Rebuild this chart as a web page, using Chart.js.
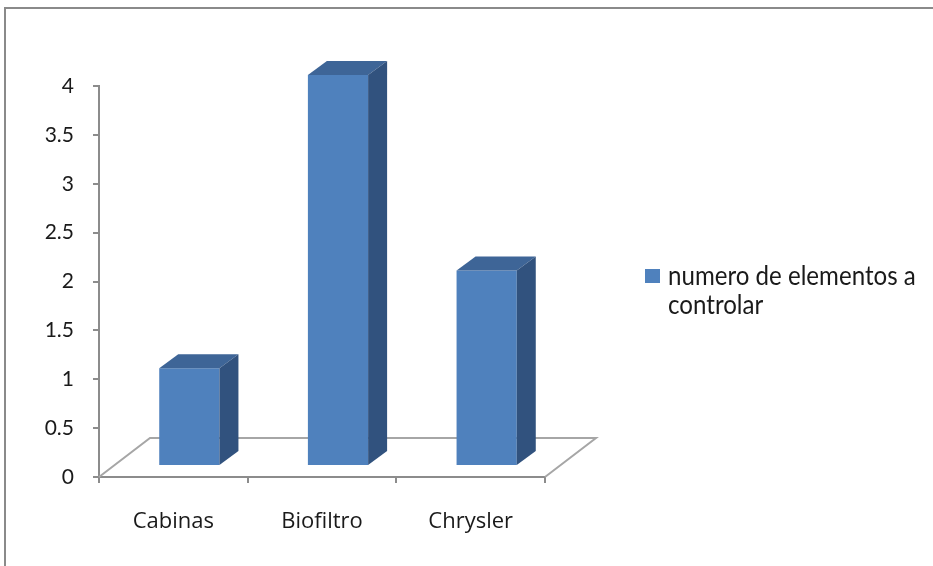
<!DOCTYPE html>
<html>
<head>
<meta charset="utf-8">
<script src="https://cdn.jsdelivr.net/npm/chart.js@4.4.0/dist/chart.umd.min.js"></script>
<style>
  html, body { margin: 0; padding: 0; background: #fff; }
  #wrap { position: relative; width: 933px; height: 566px; overflow: hidden; }
  #frame { position: absolute; left: 4px; top: 7px; width: 1000px; height: 700px;
           border-top: 2px solid #8a8a8a; border-left: 2px solid #8a8a8a; }
  canvas { position: absolute; left: 0; top: 0; }
</style>
</head>
<body>
<div id="wrap">
  <div id="frame"></div>
  <canvas id="c" width="933" height="566"></canvas>
</div>
<script>
// Data
const categories = ['Cabinas', 'Biofiltro', 'Chrysler'];
const seriesName = 'numero de elementos a controlar';
const seriesLegendLines = ['numero de elementos a', 'controlar'];
const seriesValues = [1, 4, 2];
const yTickLabels = ['0', '0.5', '1', '1.5', '2', '2.5', '3', '3.5', '4'];

// Colours
const FRONT = '#4F81BD';
const TOP = '#3E6597';
const SIDE = '#31527E';
const AXIS = '#8c8c8c';
const FLOOR = '#a6a6a6';
const TEXT = '#1a1a1a';

// Pseudo-3D geometry (pixels)
const FLOOR_DEPTH = { dx: 51, dy: -39 };
const BAR_SHIFT = { dx: 16, dy: -11 };
const BAR_DEPTH = { dx: 19, dy: -14 };

const excel3d = {
  id: 'excel3d',
  beforeDatasetsDraw(chart) {
    const { ctx, chartArea: a } = chart;
    // floor plane
    ctx.save();
    ctx.strokeStyle = FLOOR;
    ctx.lineWidth = 2;
    ctx.beginPath();
    ctx.moveTo(a.left, a.bottom);
    ctx.lineTo(a.left + FLOOR_DEPTH.dx, a.bottom + FLOOR_DEPTH.dy);
    ctx.lineTo(a.right + FLOOR_DEPTH.dx, a.bottom + FLOOR_DEPTH.dy);
    ctx.lineTo(a.right, a.bottom);
    ctx.stroke();
    ctx.restore();
    // front faces are drawn by the bar controller, pushed into the floor
    ctx.save();
    ctx.translate(BAR_SHIFT.dx, BAR_SHIFT.dy);
  },
  afterDatasetsDraw(chart) {
    const { ctx } = chart;
    ctx.restore();
    const meta = chart.getDatasetMeta(0);
    meta.data.forEach((bar) => {
      const p = bar.getProps(['x', 'y', 'base', 'width'], true);
      const l = p.x - p.width / 2 + BAR_SHIFT.dx;
      const r = p.x + p.width / 2 + BAR_SHIFT.dx;
      const t = p.y + BAR_SHIFT.dy;
      const b = p.base + BAR_SHIFT.dy;
      ctx.save();
      ctx.fillStyle = TOP;
      ctx.beginPath();
      ctx.moveTo(l, t);
      ctx.lineTo(l + BAR_DEPTH.dx, t + BAR_DEPTH.dy);
      ctx.lineTo(r + BAR_DEPTH.dx, t + BAR_DEPTH.dy);
      ctx.lineTo(r, t);
      ctx.closePath();
      ctx.fill();
      ctx.fillStyle = SIDE;
      ctx.beginPath();
      ctx.moveTo(r, t);
      ctx.lineTo(r + BAR_DEPTH.dx, t + BAR_DEPTH.dy);
      ctx.lineTo(r + BAR_DEPTH.dx, b + BAR_DEPTH.dy);
      ctx.lineTo(r, b);
      ctx.closePath();
      ctx.fill();
      ctx.restore();
    });
  },
  afterDraw(chart) {
    // legend on the right, wrapped over two lines
    const { ctx } = chart;
    ctx.save();
    ctx.fillStyle = FRONT;
    ctx.fillRect(645, 269, 15, 14);
    ctx.fillStyle = TEXT;
    ctx.font = '26px Lato, "Open Sans", sans-serif';
    ctx.textBaseline = 'alphabetic';
    ctx.textAlign = 'left';
    ctx.translate(668, 0);
    ctx.scale(0.927, 1);
    seriesLegendLines.forEach((line, i) => ctx.fillText(line, 0, 285 + i * 29));
    ctx.restore();
  }
};

new Chart(document.getElementById('c'), {
  type: 'bar',
  data: {
    labels: categories,
    datasets: [{
      label: seriesName,
      data: seriesValues,
      backgroundColor: FRONT,
      borderWidth: 0,
      categoryPercentage: 1,
      barPercentage: 0.405,
      clip: false
    }]
  },
  options: {
    responsive: false,
    animation: false,
    layout: { padding: { left: 0, top: 86, right: 388, bottom: 0 } },
    plugins: { legend: { display: false }, tooltip: { enabled: false } },
    scales: {
      x: {
        offset: true,
        grid: { offset: true, drawOnChartArea: false, tickLength: 6, color: AXIS, lineWidth: 2 },
        border: { color: AXIS, width: 2 },
        ticks: { padding: 26, color: TEXT, font: { family: '"Open Sans", sans-serif', size: 22 } },
        afterFit(s) { s.height = 89; }
      },
      y: {
        min: 0, max: 4,
        ticks: {
          stepSize: 0.5, padding: 19, color: TEXT,
          font: { family: 'Lato, "Open Sans", sans-serif', size: 21 },
          callback: (v, i) => yTickLabels[i]
        },
        grid: { drawOnChartArea: false, tickLength: 6, color: AXIS, lineWidth: 2 },
        border: { color: AXIS, width: 2 },
        afterFit(s) { s.width = 99; }
      }
    }
  },
  plugins: [excel3d]
});
</script>
</body>
</html>
